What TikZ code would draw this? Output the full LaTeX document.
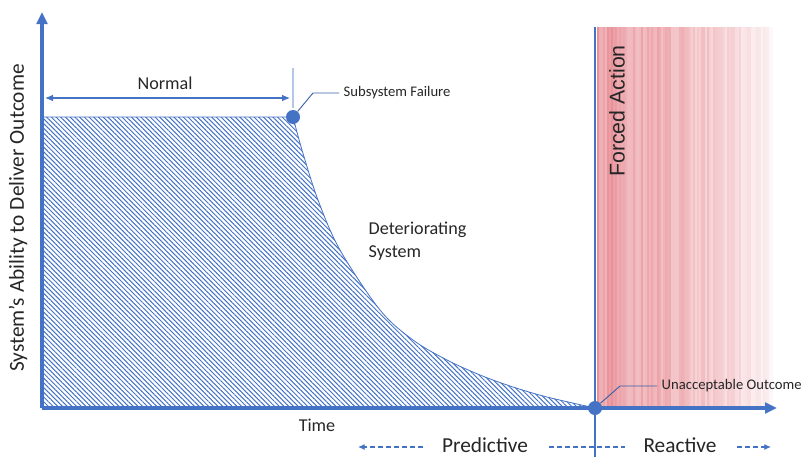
\documentclass[tikz,border=0pt]{standalone}
\usepackage{fontspec}
\setmainfont{Carlito}
\newfontfamily\arialfont{Liberation Sans}
\usetikzlibrary{arrows.meta,patterns.meta,positioning}
\definecolor{axisblue}{HTML}{4472C4}
\definecolor{alarmred}{HTML}{D9434F}
\definecolor{ticklight}{HTML}{B4C7E7}

\begin{document}
\begin{tikzpicture}[x=0.75pt,y=-0.75pt,
	  axis line/.style={axisblue,line width=2.3pt,-{Triangle[length=9pt,width=8pt]}},
	  dot/.style={circle,fill=axisblue,inner sep=0pt,minimum size=10.5pt},
	  leader/.style={axisblue!85!black,line width=0.7pt},
	  txt/.style={font=\fontsize{13.6}{17}\selectfont,text=black!85},
	  small txt/.style={font=\fontsize{11}{13}\selectfont,text=black!85},
	  big txt/.style={font=\fontsize{16}{19}\selectfont,text=black!85},
	  dashline/.style={axisblue,line width=0.8pt,dash pattern=on 3.5pt off 2.5pt}]

	  \useasboundingbox (0,0) rectangle (806,457);

	  % forced action zone
	  \shade[left color=alarmred!24,middle color=alarmred!17,right color=white]
	    (597,27) rectangle (775,406);
	  \pgfmathsetseed{7}
	  \foreach \sx in {598,600,...,772}{
	    \pgfmathsetmacro{\op}{0.5*(1-(\sx-597)/180)^0.6*(0.4+0.6*rnd)}
	    \draw[alarmred,line width=0.8pt,draw opacity=\op] (\sx,27) -- (\sx,406);
	  }
	  \coordinate (zonetop) at (595,27);
	  \coordinate (zonebot) at (595,457);
	  \draw[axisblue,line width=1pt] (zonetop) -- (zonebot);
	  \node[font=\arialfont\fontsize{16}{19}\selectfont,text=black!85,rotate=90] (forced) at (617,111) {Forced Action};

	  % capability area
	  \draw[axisblue,line width=0.6pt,pattern={Lines[angle=-45,distance=2.5pt,line width=0.75pt]},pattern color=axisblue]
	    (42,408) -- (42,117) -- (293,117)
	    -- plot[smooth,tension=0.55] coordinates {(293,117) (302,150) (318,200) (340,250) (380,310)
	       (413,340) (447,360) (480,375) (513,387) (547,397) (595,408)}
	    -- cycle;

	  % axes
	  \coordinate (origin) at (42,408);
	  \coordinate (ytip) at (42,12);
	  \coordinate (xtip) at (777,408);
	  \draw[axis line] (origin) -- (ytip);
	  \draw[axis line] (origin) -- (xtip);
	  \node[big txt,rotate=90] (ylab) at (18,218) {System's Ability to Deliver Outcome};
	  \node[txt] (time) at (317,425) {Time};

	  % normal span
	  \coordinate (normstart) at (45,98);
	  \coordinate (normend) at (290,98);
	  \draw[axisblue,line width=0.8pt,{Latex[length=6pt,width=5pt]}-{Latex[length=6pt,width=5pt]}] (normstart) -- (normend);
	  \node[txt] (normal) at (165,83) {Normal};
	  \coordinate (ticktop) at (293,68);
	  \coordinate (tickbot) at (293,108);
	  \draw[ticklight,line width=0.8pt] (ticktop) -- (tickbot);

	  % events
	  \node[dot] (fail) at (293,117) {};
	  \node[dot] (unacc) at (595,408) {};
	  \coordinate (failknee) at (313,93);
	  \coordinate (unaccknee) at (620,386);
	  \node[small txt,anchor=west] (failtxt) at (339,93) {Subsystem Failure};
	  \node[small txt,anchor=west] (unacctxt) at (657,386) {Unacceptable Outcome};
	  \draw[leader] (fail) -- (failknee) -- (failtxt.west);
	  \draw[leader] (unacc) -- (unaccknee) -- (unacctxt.west);

	  \node[txt,anchor=west,align=left] (deter) at (364,241) {Deteriorating\\System};

	  % predictive / reactive
	  \node[big txt,inner sep=0pt] (pred) at (485,445) {Predictive};
	  \node[big txt,inner sep=0pt] (react) at (680,445) {Reactive};
	  \coordinate (predend) at (358,447);
	  \coordinate (midstart) at (549,447);
	  \coordinate (midend) at (625,447);
	  \coordinate (reactend) at (771,447);
	  \draw[dashline,-{Latex[length=5pt,width=4.5pt]}] (423,447) -- (predend);
	  \draw[dashline] (midstart) -- (midend);
	  \draw[dashline,-{Latex[length=5pt,width=4.5pt]}] (737,447) -- (reactend);

	\end{tikzpicture}
\end{document}
